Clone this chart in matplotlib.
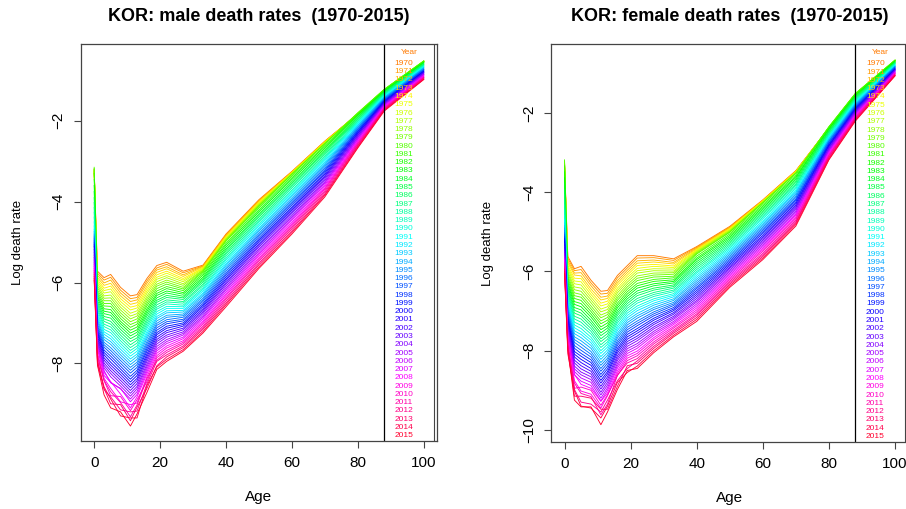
import colorsys

import matplotlib

matplotlib.use("Agg")
import matplotlib.pyplot as plt
import numpy as np

plt.rcParams["font.family"] = ["Liberation Sans", "DejaVu Sans"]

years = list(range(1970, 2016))
ages = [0, 1, 3, 5, 8, 11, 13, 16, 19, 22, 27, 33, 40, 50, 60, 70, 80, 88, 100]

# log death rates, one list per age (1970 ... 2015)
male_rates = {
    0: [-3.20, -3.22, -3.25, -3.27, -3.30, -3.28, -3.25, -3.22, -3.20, -3.18,
        -3.15, -3.30, -3.45, -3.60, -3.75, -3.90, -4.02, -4.14, -4.26, -4.38,
        -4.50, -4.60, -4.68, -4.74, -4.80, -4.85, -4.90, -4.95, -5.00, -5.05,
        -5.10, -5.18, -5.25, -5.32, -5.38, -5.44, -5.50, -5.55, -5.60, -5.65,
        -5.70, -5.75, -5.80, -5.85, -5.90, -5.95],
    1: [-5.72, -5.77, -5.82, -5.88, -5.93, -5.98, -6.03, -6.08, -6.13, -6.19,
        -6.24, -6.29, -6.34, -6.39, -6.45, -6.50, -6.55, -6.60, -6.65, -6.70,
        -6.76, -6.81, -6.86, -6.91, -6.96, -7.02, -7.07, -7.12, -7.17, -7.22,
        -7.27, -7.33, -7.38, -7.43, -7.48, -7.53, -7.58, -7.64, -7.62, -7.74,
        -7.85, -7.80, -7.90, -8.02, -7.96, -8.05],
    3: [-5.88, -5.94, -6.01, -6.07, -6.14, -6.20, -6.26, -6.33, -6.39, -6.45,
        -6.52, -6.58, -6.65, -6.71, -6.77, -6.84, -6.90, -6.96, -7.03, -7.09,
        -7.16, -7.22, -7.28, -7.35, -7.41, -7.48, -7.54, -7.60, -7.67, -7.73,
        -7.79, -7.86, -7.92, -7.99, -8.05, -8.11, -8.18, -8.30, -8.22, -8.37,
        -8.43, -8.42, -8.65, -8.62, -8.58, -8.78],
    5: [-5.80, -5.87, -5.94, -6.02, -6.09, -6.16, -6.23, -6.31, -6.38, -6.45,
        -6.52, -6.59, -6.67, -6.74, -6.81, -6.88, -6.96, -7.03, -7.10, -7.17,
        -7.24, -7.32, -7.39, -7.46, -7.53, -7.61, -7.68, -7.75, -7.82, -7.89,
        -7.97, -8.04, -8.11, -8.18, -8.25, -8.33, -8.48, -8.47, -8.45, -8.62,
        -8.80, -8.70, -8.83, -9.00, -8.88, -9.10],
    8: [-6.12, -6.19, -6.26, -6.33, -6.40, -6.47, -6.54, -6.61, -6.68, -6.75,
        -6.82, -6.89, -6.96, -7.02, -7.09, -7.16, -7.23, -7.30, -7.37, -7.44,
        -7.51, -7.58, -7.65, -7.72, -7.79, -7.86, -7.93, -8.00, -8.07, -8.14,
        -8.21, -8.28, -8.35, -8.42, -8.49, -8.56, -8.63, -8.62, -8.76, -8.95,
        -8.82, -8.97, -9.15, -9.02, -9.30, -9.20],
    11: [-6.33, -6.40, -6.47, -6.54, -6.61, -6.68, -6.76, -6.83, -6.90, -6.97,
         -7.04, -7.11, -7.18, -7.25, -7.32, -7.39, -7.46, -7.54, -7.61, -7.68,
         -7.75, -7.82, -7.89, -7.96, -8.03, -8.10, -8.17, -8.24, -8.32, -8.39,
         -8.46, -8.53, -8.60, -8.67, -8.74, -8.81, -8.88, -8.95, -9.10, -9.02,
         -9.17, -9.32, -9.20, -9.42, -9.35, -9.55],
    13: [-6.30, -6.37, -6.43, -6.50, -6.57, -6.63, -6.70, -6.77, -6.83, -6.90,
         -6.97, -7.03, -7.10, -7.17, -7.23, -7.30, -7.37, -7.43, -7.50, -7.57,
         -7.63, -7.70, -7.77, -7.83, -7.90, -7.97, -8.03, -8.10, -8.17, -8.23,
         -8.30, -8.37, -8.43, -8.50, -8.57, -8.63, -8.70, -8.77, -8.83, -8.98,
         -8.90, -9.03, -9.18, -9.08, -9.35, -9.25],
    16: [-5.90, -5.96, -6.02, -6.09, -6.15, -6.21, -6.27, -6.34, -6.40, -6.46,
         -6.52, -6.58, -6.65, -6.71, -6.77, -6.83, -6.90, -6.96, -7.02, -7.08,
         -7.14, -7.21, -7.27, -7.33, -7.39, -7.46, -7.52, -7.58, -7.64, -7.70,
         -7.77, -7.83, -7.89, -7.95, -8.02, -8.08, -8.14, -8.20, -8.26, -8.33,
         -8.45, -8.38, -8.51, -8.62, -8.55, -8.72],
    19: [-5.58, -5.64, -5.69, -5.75, -5.81, -5.87, -5.92, -5.98, -6.04, -6.09,
         -6.15, -6.21, -6.27, -6.32, -6.38, -6.44, -6.49, -6.55, -6.61, -6.66,
         -6.72, -6.78, -6.84, -6.89, -6.95, -7.01, -7.06, -7.12, -7.18, -7.24,
         -7.29, -7.35, -7.41, -7.46, -7.52, -7.58, -7.64, -7.69, -7.75, -7.81,
         -7.86, -7.92, -7.95, -8.06, -8.09, -8.15],
    22: [-5.50, -5.55, -5.61, -5.66, -5.72, -5.77, -5.83, -5.88, -5.94, -5.99,
         -6.04, -6.10, -6.15, -6.21, -6.26, -6.32, -6.37, -6.43, -6.48, -6.53,
         -6.59, -6.64, -6.70, -6.75, -6.81, -6.86, -6.92, -6.97, -7.02, -7.08,
         -7.13, -7.19, -7.24, -7.30, -7.35, -7.41, -7.46, -7.51, -7.57, -7.62,
         -7.68, -7.73, -7.79, -7.84, -7.90, -7.95],
    27: [-5.72, -5.76, -5.81, -5.85, -5.90, -5.94, -5.98, -6.03, -6.07, -6.12,
         -6.16, -6.20, -6.25, -6.29, -6.34, -6.38, -6.42, -6.47, -6.51, -6.56,
         -6.60, -6.64, -6.69, -6.73, -6.78, -6.82, -6.86, -6.91, -6.95, -7.00,
         -7.04, -7.08, -7.13, -7.17, -7.22, -7.26, -7.30, -7.35, -7.39, -7.44,
         -7.48, -7.52, -7.57, -7.61, -7.66, -7.70],
    33: [-5.57, -5.59, -5.60, -5.62, -5.64, -5.65, -5.67, -5.69, -5.70, -5.72,
         -5.74, -5.78, -5.82, -5.87, -5.91, -5.95, -5.99, -6.04, -6.08, -6.13,
         -6.17, -6.21, -6.26, -6.30, -6.34, -6.39, -6.43, -6.47, -6.52, -6.56,
         -6.60, -6.65, -6.69, -6.73, -6.77, -6.82, -6.86, -6.90, -6.95, -6.99,
         -7.03, -7.08, -7.12, -7.16, -7.21, -7.25],
    40: [-4.80, -4.82, -4.84, -4.85, -4.87, -4.89, -4.91, -4.93, -4.94, -4.96,
         -4.98, -5.03, -5.07, -5.12, -5.17, -5.21, -5.26, -5.30, -5.35, -5.40,
         -5.44, -5.49, -5.54, -5.58, -5.63, -5.67, -5.72, -5.77, -5.81, -5.86,
         -5.91, -5.95, -6.00, -6.04, -6.09, -6.14, -6.18, -6.23, -6.28, -6.32,
         -6.37, -6.41, -6.46, -6.51, -6.55, -6.60],
    50: [-3.95, -3.97, -3.98, -4.00, -4.02, -4.04, -4.05, -4.07, -4.09, -4.10,
         -4.12, -4.16, -4.21, -4.25, -4.30, -4.34, -4.38, -4.43, -4.47, -4.51,
         -4.56, -4.60, -4.65, -4.69, -4.73, -4.78, -4.82, -4.86, -4.91, -4.95,
         -4.99, -5.04, -5.08, -5.12, -5.17, -5.21, -5.26, -5.30, -5.34, -5.39,
         -5.43, -5.47, -5.52, -5.56, -5.61, -5.65],
    60: [-3.25, -3.26, -3.27, -3.27, -3.28, -3.29, -3.30, -3.30, -3.31, -3.32,
         -3.33, -3.37, -3.41, -3.45, -3.50, -3.54, -3.58, -3.62, -3.66, -3.71,
         -3.75, -3.79, -3.83, -3.87, -3.92, -3.96, -4.00, -4.04, -4.08, -4.13,
         -4.17, -4.21, -4.25, -4.29, -4.34, -4.38, -4.42, -4.46, -4.51, -4.55,
         -4.59, -4.63, -4.67, -4.72, -4.76, -4.80],
    70: [-2.50, -2.51, -2.51, -2.52, -2.53, -2.53, -2.54, -2.55, -2.56, -2.56,
         -2.57, -2.61, -2.64, -2.68, -2.72, -2.76, -2.79, -2.83, -2.87, -2.91,
         -2.94, -2.98, -3.02, -3.06, -3.09, -3.13, -3.17, -3.21, -3.24, -3.28,
         -3.32, -3.36, -3.39, -3.43, -3.47, -3.51, -3.54, -3.58, -3.62, -3.66,
         -3.69, -3.73, -3.77, -3.81, -3.84, -3.88],
    80: [-1.83, -1.83, -1.83, -1.83, -1.83, -1.83, -1.82, -1.82, -1.81, -1.81,
         -1.80, -1.83, -1.85, -1.87, -1.90, -1.92, -1.95, -1.97, -2.00, -2.02,
         -2.05, -2.07, -2.10, -2.12, -2.15, -2.17, -2.20, -2.22, -2.25, -2.27,
         -2.30, -2.32, -2.35, -2.37, -2.40, -2.42, -2.45, -2.47, -2.50, -2.52,
         -2.55, -2.57, -2.60, -2.62, -2.65, -2.67],
    88: [-1.24, -1.24, -1.24, -1.24, -1.24, -1.24, -1.23, -1.23, -1.23, -1.23,
         -1.22, -1.24, -1.25, -1.27, -1.28, -1.30, -1.31, -1.33, -1.34, -1.36,
         -1.37, -1.39, -1.41, -1.42, -1.44, -1.45, -1.47, -1.48, -1.50, -1.51,
         -1.53, -1.54, -1.56, -1.57, -1.59, -1.60, -1.62, -1.64, -1.65, -1.67,
         -1.68, -1.70, -1.71, -1.73, -1.74, -1.76],
    100: [-0.54, -0.54, -0.54, -0.54, -0.53, -0.53, -0.53, -0.53, -0.52, -0.52,
          -0.52, -0.53, -0.55, -0.56, -0.57, -0.59, -0.60, -0.61, -0.63, -0.64,
          -0.65, -0.66, -0.68, -0.69, -0.70, -0.72, -0.73, -0.74, -0.76, -0.77,
          -0.78, -0.80, -0.81, -0.82, -0.84, -0.85, -0.86, -0.88, -0.89, -0.90,
          -0.92, -0.93, -0.94, -0.96, -0.97, -0.98],
}

female_rates = {
    0: [-3.25, -3.27, -3.30, -3.32, -3.35, -3.33, -3.30, -3.27, -3.24, -3.21,
        -3.18, -3.33, -3.48, -3.63, -3.78, -3.93, -4.06, -4.19, -4.32, -4.45,
        -4.58, -4.68, -4.77, -4.84, -4.90, -4.96, -5.02, -5.07, -5.12, -5.17,
        -5.22, -5.29, -5.36, -5.43, -5.49, -5.55, -5.61, -5.66, -5.71, -5.76,
        -5.81, -5.86, -5.91, -5.95, -6.00, -6.05],
    1: [-5.62, -5.67, -5.73, -5.78, -5.84, -5.89, -5.94, -6.00, -6.05, -6.11,
        -6.16, -6.21, -6.27, -6.32, -6.38, -6.43, -6.48, -6.54, -6.59, -6.65,
        -6.70, -6.75, -6.81, -6.86, -6.92, -6.97, -7.02, -7.08, -7.13, -7.19,
        -7.24, -7.29, -7.35, -7.40, -7.46, -7.51, -7.56, -7.62, -7.67, -7.65,
        -7.78, -7.92, -7.84, -7.94, -8.08, -7.98],
    3: [-5.93, -5.98, -6.04, -6.09, -6.17, -6.24, -6.31, -6.39, -6.46, -6.54,
        -6.61, -6.68, -6.76, -6.83, -6.91, -6.98, -7.05, -7.13, -7.20, -7.28,
        -7.35, -7.42, -7.50, -7.57, -7.65, -7.72, -7.79, -7.87, -7.94, -8.02,
        -8.09, -8.16, -8.24, -8.31, -8.39, -8.46, -8.53, -8.61, -8.60, -8.76,
        -8.95, -8.82, -8.98, -9.15, -9.02, -9.25],
    5: [-5.87, -5.95, -6.03, -6.11, -6.18, -6.26, -6.34, -6.42, -6.50, -6.58,
        -6.65, -6.73, -6.81, -6.89, -6.97, -7.05, -7.12, -7.20, -7.28, -7.36,
        -7.44, -7.52, -7.59, -7.67, -7.75, -7.83, -7.91, -7.99, -8.07, -8.14,
        -8.22, -8.30, -8.38, -8.46, -8.54, -8.61, -8.69, -8.77, -8.85, -9.02,
        -8.92, -9.08, -9.30, -9.15, -9.40, -9.42],
    8: [-6.22, -6.29, -6.36, -6.44, -6.51, -6.58, -6.65, -6.72, -6.79, -6.87,
        -6.94, -7.01, -7.08, -7.15, -7.23, -7.30, -7.37, -7.44, -7.51, -7.58,
        -7.66, -7.73, -7.80, -7.87, -7.94, -8.02, -8.09, -8.16, -8.23, -8.30,
        -8.37, -8.45, -8.52, -8.59, -8.66, -8.73, -8.80, -8.88, -8.95, -9.10,
        -9.00, -9.16, -9.35, -9.20, -9.45, -9.42],
    11: [-6.50, -6.57, -6.65, -6.72, -6.80, -6.87, -6.95, -7.02, -7.10, -7.17,
         -7.25, -7.32, -7.40, -7.47, -7.55, -7.62, -7.70, -7.77, -7.85, -7.92,
         -8.00, -8.07, -8.15, -8.22, -8.30, -8.37, -8.45, -8.52, -8.60, -8.67,
         -8.75, -8.82, -8.90, -8.97, -9.05, -9.12, -9.20, -9.27, -9.28, -9.45,
         -9.38, -9.62, -9.55, -9.48, -9.70, -9.87],
    13: [-6.48, -6.55, -6.62, -6.68, -6.75, -6.82, -6.89, -6.96, -7.03, -7.09,
         -7.16, -7.23, -7.30, -7.37, -7.43, -7.50, -7.57, -7.64, -7.71, -7.78,
         -7.84, -7.91, -7.98, -8.05, -8.12, -8.19, -8.25, -8.32, -8.39, -8.46,
         -8.53, -8.59, -8.66, -8.73, -8.80, -8.87, -8.94, -9.00, -9.07, -9.14,
         -9.12, -9.35, -9.25, -9.48, -9.40, -9.55],
    16: [-6.10, -6.16, -6.23, -6.29, -6.35, -6.42, -6.48, -6.54, -6.61, -6.67,
         -6.73, -6.80, -6.86, -6.92, -6.99, -7.05, -7.11, -7.18, -7.24, -7.30,
         -7.37, -7.43, -7.49, -7.56, -7.62, -7.68, -7.75, -7.81, -7.87, -7.94,
         -8.00, -8.06, -8.13, -8.19, -8.25, -8.32, -8.38, -8.44, -8.51, -8.57,
         -8.63, -8.62, -8.76, -8.90, -8.80, -8.98],
    19: [-5.85, -5.91, -5.97, -6.03, -6.09, -6.15, -6.21, -6.27, -6.33, -6.39,
         -6.45, -6.51, -6.57, -6.63, -6.69, -6.75, -6.81, -6.87, -6.93, -6.99,
         -7.05, -7.11, -7.17, -7.23, -7.29, -7.35, -7.41, -7.47, -7.53, -7.59,
         -7.65, -7.71, -7.77, -7.83, -7.89, -7.95, -8.01, -8.07, -8.13, -8.19,
         -8.25, -8.31, -8.45, -8.38, -8.55, -8.50],
    22: [-5.60, -5.66, -5.73, -5.79, -5.85, -5.92, -5.98, -6.04, -6.11, -6.17,
         -6.23, -6.30, -6.36, -6.42, -6.49, -6.55, -6.61, -6.68, -6.74, -6.80,
         -6.87, -6.93, -6.99, -7.06, -7.12, -7.18, -7.25, -7.31, -7.37, -7.44,
         -7.50, -7.56, -7.63, -7.69, -7.75, -7.82, -7.88, -7.94, -8.01, -8.07,
         -8.13, -8.20, -8.26, -8.32, -8.39, -8.45],
    27: [-5.60, -5.65, -5.71, -5.76, -5.82, -5.87, -5.93, -5.98, -6.04, -6.09,
         -6.14, -6.20, -6.25, -6.31, -6.36, -6.42, -6.47, -6.53, -6.58, -6.63,
         -6.69, -6.74, -6.80, -6.85, -6.91, -6.96, -7.02, -7.07, -7.12, -7.18,
         -7.23, -7.29, -7.34, -7.40, -7.45, -7.51, -7.56, -7.61, -7.67, -7.72,
         -7.78, -7.83, -7.89, -7.94, -8.00, -8.05],
    33: [-5.68, -5.72, -5.77, -5.81, -5.86, -5.90, -5.94, -5.99, -6.03, -6.07,
         -6.12, -6.16, -6.21, -6.25, -6.29, -6.34, -6.38, -6.42, -6.47, -6.51,
         -6.56, -6.60, -6.64, -6.69, -6.73, -6.78, -6.82, -6.86, -6.91, -6.95,
         -6.99, -7.04, -7.08, -7.13, -7.17, -7.21, -7.26, -7.30, -7.34, -7.39,
         -7.43, -7.48, -7.52, -7.56, -7.61, -7.65],
    40: [-5.37, -5.39, -5.41, -5.43, -5.45, -5.46, -5.48, -5.50, -5.52, -5.54,
         -5.56, -5.61, -5.66, -5.70, -5.75, -5.80, -5.85, -5.90, -5.95, -6.00,
         -6.04, -6.09, -6.14, -6.19, -6.24, -6.29, -6.34, -6.39, -6.43, -6.48,
         -6.53, -6.58, -6.63, -6.68, -6.73, -6.77, -6.82, -6.87, -6.92, -6.97,
         -7.02, -7.07, -7.11, -7.16, -7.21, -7.26],
    50: [-4.86, -4.88, -4.89, -4.91, -4.92, -4.94, -4.95, -4.97, -4.98, -5.00,
         -5.01, -5.05, -5.09, -5.13, -5.17, -5.21, -5.25, -5.29, -5.33, -5.37,
         -5.41, -5.45, -5.49, -5.53, -5.57, -5.61, -5.65, -5.69, -5.73, -5.77,
         -5.81, -5.85, -5.89, -5.92, -5.96, -6.00, -6.04, -6.08, -6.12, -6.16,
         -6.20, -6.24, -6.28, -6.32, -6.36, -6.40],
    60: [-4.19, -4.20, -4.21, -4.21, -4.22, -4.23, -4.24, -4.24, -4.25, -4.26,
         -4.27, -4.31, -4.35, -4.39, -4.43, -4.47, -4.51, -4.55, -4.59, -4.63,
         -4.67, -4.72, -4.76, -4.80, -4.84, -4.88, -4.92, -4.96, -5.00, -5.04,
         -5.09, -5.13, -5.17, -5.21, -5.25, -5.29, -5.33, -5.37, -5.41, -5.45,
         -5.49, -5.54, -5.58, -5.62, -5.66, -5.70],
    70: [-3.45, -3.46, -3.46, -3.47, -3.48, -3.49, -3.49, -3.50, -3.51, -3.51,
         -3.52, -3.56, -3.60, -3.63, -3.67, -3.71, -3.75, -3.79, -3.82, -3.86,
         -3.90, -3.94, -3.98, -4.01, -4.05, -4.09, -4.13, -4.17, -4.20, -4.24,
         -4.28, -4.32, -4.36, -4.39, -4.43, -4.47, -4.51, -4.55, -4.58, -4.62,
         -4.66, -4.70, -4.74, -4.77, -4.81, -4.85],
    80: [-2.37, -2.37, -2.37, -2.37, -2.37, -2.37, -2.36, -2.36, -2.35, -2.35,
         -2.34, -2.36, -2.39, -2.41, -2.44, -2.46, -2.48, -2.51, -2.53, -2.56,
         -2.58, -2.60, -2.63, -2.65, -2.68, -2.70, -2.72, -2.75, -2.77, -2.80,
         -2.82, -2.84, -2.87, -2.89, -2.92, -2.94, -2.96, -2.99, -3.01, -3.04,
         -3.06, -3.08, -3.11, -3.13, -3.16, -3.18],
    88: [-1.53, -1.53, -1.52, -1.52, -1.52, -1.52, -1.51, -1.51, -1.51, -1.51,
         -1.50, -1.52, -1.54, -1.56, -1.58, -1.60, -1.62, -1.64, -1.66, -1.68,
         -1.70, -1.72, -1.74, -1.76, -1.78, -1.80, -1.82, -1.84, -1.86, -1.88,
         -1.90, -1.92, -1.94, -1.96, -1.98, -2.00, -2.02, -2.04, -2.06, -2.08,
         -2.10, -2.12, -2.14, -2.16, -2.18, -2.20],
    100: [-0.68, -0.68, -0.67, -0.67, -0.67, -0.67, -0.67, -0.67, -0.66, -0.66,
          -0.66, -0.67, -0.68, -0.69, -0.71, -0.72, -0.73, -0.74, -0.75, -0.76,
          -0.77, -0.79, -0.80, -0.81, -0.82, -0.83, -0.84, -0.85, -0.87, -0.88,
          -0.89, -0.90, -0.91, -0.92, -0.93, -0.95, -0.96, -0.97, -0.98, -0.99,
          -1.00, -1.01, -1.03, -1.04, -1.05, -1.06],
}

# orange -> yellow -> green -> cyan -> blue -> magenta -> red, like R's rainbow
colors = [colorsys.hsv_to_rgb(h, 1.0, 1.0) for h in np.linspace(0.08, 0.97, len(years))]

FRAME = "#444444"


def panel(ax, rates, title, ylim, yticks):
    table = np.array([rates[a] for a in ages])
    for j in range(len(years)):
        ax.plot(ages, table[:, j], color=colors[j], lw=0.65, solid_joinstyle="round")

    ax.set_xlim(-4, 104)
    ax.set_ylim(*ylim)
    ax.set_xticks([0, 20, 40, 60, 80, 100])
    ax.set_yticks(yticks)
    ax.tick_params(axis="both", direction="out", length=5, width=0.8, color=FRAME,
                   labelsize=11)
    ax.tick_params(axis="x", pad=6)
    ax.tick_params(axis="y", pad=6, labelrotation=90)
    for lab in ax.get_yticklabels():
        lab.set_va("center")
    for s in ax.spines.values():
        s.set_color(FRAME)
        s.set_linewidth(0.9)

    ax.set_title(title, fontsize=13, fontweight="bold", pad=16.5)
    ax.text(0.5, -0.141, "Age", transform=ax.transAxes, ha="center", va="center",
            fontsize=11)
    ax.text(-0.176, 0.5, "Log death rate", transform=ax.transAxes, rotation=90,
            ha="center", va="center", fontsize=9.5)

    # legend box in the right part of the plot
    ax.axvline(87.9, color="black", lw=0.9)
    ax.axvline(103.0, color=FRAME, lw=0.8)
    ax.text(95.6, 0.979, "Year", transform=ax.get_xaxis_transform(), ha="center",
            va="center", fontsize=6, color=colors[0])
    for j, yr in enumerate(years):
        ax.text(91.2, 0.951 - j * 0.02084, str(yr), transform=ax.get_xaxis_transform(),
                ha="left", va="center", fontsize=6, color=colors[j])


fig = plt.figure(figsize=(9.06, 5.09), dpi=100)
ax1 = fig.add_axes([0.0894, 0.1336, 0.3929, 0.78])
ax2 = fig.add_axes([0.6085, 0.1322, 0.3940, 0.7808])

panel(ax1, male_rates, "KOR: male death rates  (1970-2015)", (-9.92, -0.10),
      [-2, -4, -6, -8])
panel(ax2, female_rates, "KOR: female death rates  (1970-2015)", (-10.30, -0.26),
      [-2, -4, -6, -8, -10])

fig.savefig("out.png", dpi=100)
